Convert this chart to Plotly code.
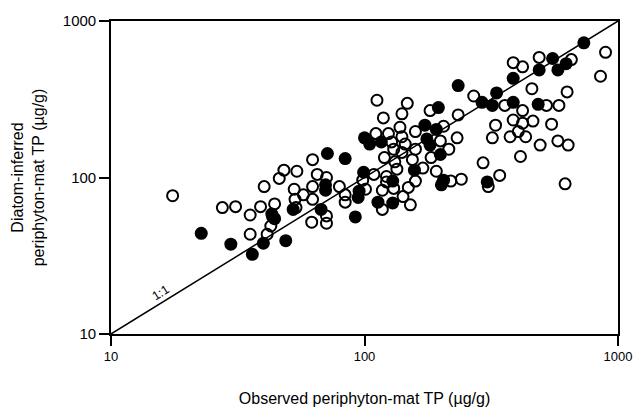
import plotly.graph_objects as go

# Tick labels
tick_vals = [10, 100, 1000]
tick_text = ["10", "100", "1000"]

# 1:1 reference line
line_x = [10, 1000]
line_y = [10, 1000]

# Open circles: observed vs diatom-inferred periphyton-mat TP (µg/g)
open_x = [17.5, 27.5, 31.0, 35.4, 38.9, 40.2, 44.2, 43.4, 42.7, 41.3, 35.4, 46.1, 48.1, 54.1,
          52.8, 53.2, 53.7, 57.4, 62.4, 62.4, 65.1, 62.4, 70.8, 79.6, 70.8, 70.8, 61.9, 83.9,
          83.9, 98.4, 108.9, 112.0, 147.5, 140.5, 118.7, 181.4, 234.2, 205.1, 158.8, 110.9,
          124.3, 138.0, 231.9, 127.9, 140.5, 144.7, 199.2, 158.8, 215.1, 140.5, 131.7, 119.8,
          154.5, 183.1, 169.9, 192.0, 122.1, 122.1, 158.8, 219.1, 240.9, 148.9, 117.6, 130.4,
          141.9, 151.7, 117.6, 100.9, 134.2, 130.4, 293.6, 341.4, 307.7, 618.5, 412.4, 269.7,
          357.6, 420.4, 457.4, 522.2, 584.7, 629.8, 328.8, 386.0, 420.4, 461.9, 547.1, 319.4,
          375.3, 404.4, 432.3, 493.1, 579.1, 635.9, 386.0, 420.4, 488.7, 654.8, 893.0, 853.1]
open_y = [76.5, 64.2, 65.1, 57.6, 65.1, 87.5, 67.8, 56.0, 49.0, 43.4, 43.4, 98.7, 111.4, 109.6,
          84.1, 72.5, 64.2, 77.5, 87.5, 72.5, 104.7, 130.0, 100.0, 87.5, 56.8, 51.0, 51.8, 77.5,
          69.6, 96.2, 104.7, 311.6, 297.8, 255.3, 240.3, 267.5, 251.2, 212.5, 196.6, 190.8,
          190.8, 209.3, 179.2, 168.8, 182.1, 163.6, 171.4, 151.6, 151.6, 144.7, 125.9, 134.1,
          130.0, 134.1, 114.9, 109.6, 101.5, 93.7, 94.9, 94.9, 97.5, 86.4, 82.9, 85.2,
          75.5, 66.9, 62.5, 84.1, 113.1, 151.6, 124.1, 103.1, 87.5, 91.1, 136.2, 331.6,
          288.7, 267.5, 369.3, 288.7, 288.7, 352.3, 215.8, 233.0, 222.3, 229.4, 219.0, 179.2,
          182.1, 196.6, 182.1, 161.1, 171.4, 161.1, 541.9, 509.4, 585.2, 566.8, 631.0, 443.5]

# Filled circles: observed vs diatom-inferred periphyton-mat TP (µg/g)
filled_x = [22.7, 29.7, 36.1, 39.9, 48.9, 44.2, 43.1, 52.3, 67.4, 70.2, 70.2, 71.4, 83.9, 92.0,
            100.0, 104.8, 116.5, 99.2, 95.2, 94.4, 113.0, 129.2, 129.2, 157.4, 173.1, 192.0,
            195.6, 176.2, 181.4, 199.2, 205.1, 201.1, 304.9, 234.2, 290.8, 319.4, 331.9, 386.0,
            386.0, 484.2, 488.7, 552.2, 579.1, 624.1, 733.3]
filled_y = [44.0, 37.5, 32.3, 38.0, 39.5, 54.6, 58.4, 62.5, 62.5, 89.8, 82.9, 142.4, 132.1, 56.0,
            179.2, 163.6, 168.8, 108.0, 81.8, 74.5, 69.6, 68.7, 94.9, 111.4, 215.8, 202.8,
            279.8, 176.5, 161.1, 140.3, 96.2, 89.8, 93.7, 386.6, 302.4, 288.7, 347.1, 430.5,
            302.4, 293.3, 486.7, 576.0, 486.7, 533.8, 725.2]

FONT = "Liberation Sans, Arial, sans-serif"

fig = go.Figure()
fig.add_trace(go.Scatter(x=line_x, y=line_y, mode="lines",
                         line=dict(color="black", width=1.5), hoverinfo="skip"))
fig.add_trace(go.Scatter(x=open_x, y=open_y, mode="markers",
                         marker=dict(symbol="circle-open", size=11, color="black",
                                     line=dict(width=2, color="black"))))
fig.add_trace(go.Scatter(x=filled_x, y=filled_y, mode="markers",
                         marker=dict(symbol="circle", size=13, color="black",
                                     line=dict(width=0))))

fig.add_annotation(x=1.195, y=1.262, xref="x", yref="y", text="1:1", showarrow=False,
                   textangle=-32, font=dict(size=12.5, color="black"))

axis_common = dict(type="log", range=[1, 3], tickmode="array", tickvals=tick_vals,
                   ticktext=tick_text, showline=True, linecolor="black", linewidth=1.6,
                   mirror=True, ticks="outside", ticklen=10, tickwidth=1.5, tickcolor="black",
                   showgrid=False, zeroline=False)

fig.update_layout(
    width=644, height=417,
    margin=dict(l=111, r=16, t=17, b=79),
    paper_bgcolor="white", plot_bgcolor="white",
    showlegend=False,
    font=dict(family=FONT, color="black"),
    xaxis=dict(axis_common, tickfont=dict(size=13, color="black"),
               title=dict(text="Observed periphyton-mat TP (µg/g)",
                          font=dict(size=16), standoff=29)),
    yaxis=dict(axis_common, tickfont=dict(size=15, color="black"),
               title=dict(text="Diatom-inferred<br>periphyton-mat TP (µg/g)",
                          font=dict(size=16), standoff=14)),
)

fig.write_html("out.html")
